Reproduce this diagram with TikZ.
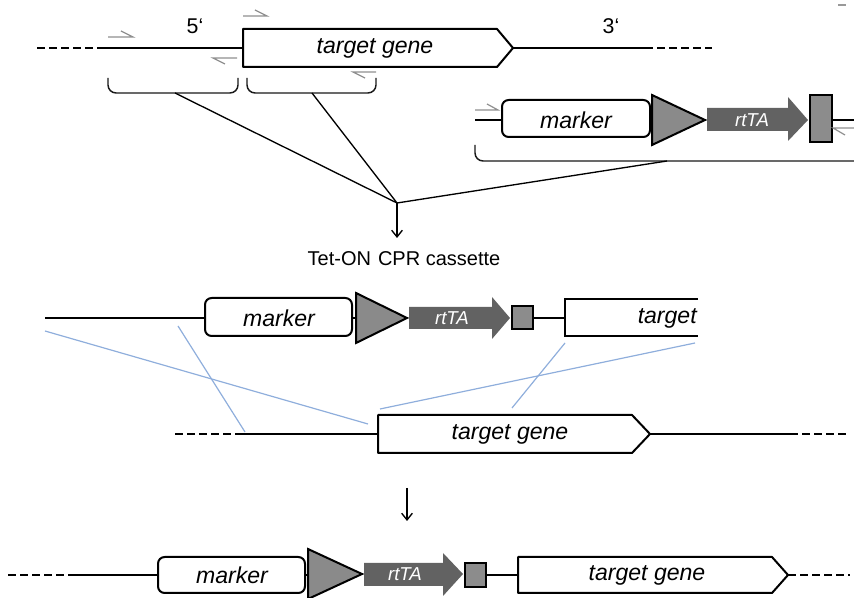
\documentclass[tikz,border=0pt]{standalone}
\usepackage{fontspec}
\setmainfont{Liberation Sans}
\usetikzlibrary{arrows.meta}
\definecolor{promgray}{HTML}{8A8A8A}
\definecolor{rttagray}{HTML}{626262}
\definecolor{termgray}{HTML}{8C8C8C}
\definecolor{primgray}{HTML}{8F8F8F}
\definecolor{homblue}{HTML}{8FAEDC}
\tikzset{
  dna/.style={line width=1.6pt, draw=black},
  dnadash/.style={dna, dash pattern=on 6pt off 3pt},
  genebox/.style={draw=black, line width=1.5pt, fill=white, line join=round},
  markerbox/.style={draw=black, line width=1.5pt, fill=white, rounded corners=5pt},
  prombox/.style={draw=black, line width=1.5pt, fill=promgray, line join=miter},
  rttabox/.style={fill=rttagray, draw=none},
  termbox/.style={draw=black, line width=1.5pt, fill=termgray},
  primer/.style={draw=primgray, line width=0.9pt},
  bracket/.style={draw=black!90, line width=1.1pt, rounded corners=6pt},
  link/.style={draw=black, line width=1pt},
  hom/.style={draw=homblue, line width=0.9pt},
  lab/.style={inner sep=0pt, font=\fontsize{17.3}{20}\selectfont\itshape},
  rlab/.style={inner sep=0pt, text=white, font=\fontsize{14}{16}\selectfont\itshape},
  plainlab/.style={inner sep=0pt, font=\fontsize{15}{18}\selectfont},
}
\begin{document}
\begin{tikzpicture}[x=0.75pt, y=-0.75pt]
\path[use as bounding box] (0,0) rectangle (854,598);

% ================= top: genomic locus =================
\draw[dnadash] (37,48) -- (100,48);
\draw[dna] (100,48) -- (243,48);
\draw[genebox] (243,29) -- (497,29) -- (513,48) -- (497,67) -- (243,67) -- cycle;
\node[lab] (tg1) at (375,48) {target gene};
\draw[dna] (513,48) -- (645,48);
\draw[dnadash] (645,48) -- (712,48);
\node[plainlab, font=\fontsize{16}{19}\selectfont] (five) at (195,26) {5‘};
\node[plainlab, font=\fontsize{16}{19}\selectfont] (three) at (611,26) {3‘};

% primers
\draw[primer] (108,37) -- (133,37) -- (121,31);
\draw[primer] (243,16) -- (267,16) -- (255,10);
\draw[primer] (237,58) -- (213,58) -- (225,64);
\draw[primer] (376,72) -- (353,72) -- (365,78);

% brackets
\draw[bracket] (108,78) -- (108,93) -- (238,93) -- (238,78);
\draw[bracket] (247,78) -- (247,93) -- (376,93) -- (376,78);
\coordinate (b1) at (175,93);
\coordinate (b2) at (312,93);

% ================= top right: cassette parts =================
\draw[dna] (475,120) -- (502,120);
\draw[markerbox] (502,100) rectangle (650,137);
\node[lab] (mk1) at (576,120) {marker};
\draw[dna] (650,120) -- (652,120);
\draw[prombox] (652,95) -- (705,120) -- (652,145) -- cycle;
\fill[rttabox] (707,108) -- (788,108) -- (788,97) -- (808,120) -- (788,141) -- (788,131) -- (707,131) -- cycle;
\node[rlab] (rt1) at (752,120) {rtTA};
\draw[termbox] (810,95) rectangle (832,142);
\draw[dna] (832,120) -- (854,120);
\draw[primer] (475,110) -- (498,110) -- (487,104);
\draw[primer] (854,128) -- (833,128) -- (845,135);
\draw[bracket] (475,145) -- (475,161) -- (854,161);
\coordinate (b3) at (667,161);
\draw[draw=black!40, line width=0.8pt] (838,5) -- (846,5);

% ================= convergence =================
\coordinate (conv) at (397,203);
\draw[link] (b1) -- (conv);
\draw[link] (b2) -- (conv);
\draw[link] (b3) -- (conv);
\coordinate (arrEnd1) at (397,238);
\draw[link, -{Straight Barb[length=5pt, width=8pt]}] (conv) -- (arrEnd1);
\node[plainlab] (cass) at (404,259) {Tet-ON\hspace{0.35em}CPR cassette};

% ================= middle: cassette =================
\draw[dna] (45,318) -- (205,318);
\draw[markerbox] (205,298) rectangle (352,336);
\node[lab] (mk2) at (279,318) {marker};
\draw[dna] (352,318) -- (356,318);
\draw[prombox] (356,293) -- (407,318) -- (356,343) -- cycle;
\fill[rttabox] (409,307) -- (492,307) -- (492,297) -- (510,318) -- (492,339) -- (492,329) -- (409,329) -- cycle;
\node[rlab] (rt2) at (452,318) {rtTA};
\draw[termbox] (512,306) rectangle (533,329);
\draw[dna] (533,318) -- (565,318);
\fill[white] (565,299) rectangle (698,336);
\draw[line width=1.5pt] (698,299) -- (565,299) -- (565,336) -- (698,336);
\node[lab, anchor=east] (tg2) at (697,318) {target};

% homology lines
\draw[hom] (45,331) -- (368,424);
\draw[hom] (178,326) -- (245,432);
\draw[hom] (695,343) -- (380,409);
\draw[hom] (565,343) -- (512,408);

% ================= row 3: genomic target =================
\draw[dnadash] (175,434) -- (235,434);
\draw[dna] (235,434) -- (378,434);
\draw[genebox] (378,415) -- (632,415) -- (650,434) -- (632,453) -- (378,453) -- cycle;
\node[lab] (tg3) at (510,434) {target gene};
\draw[dna] (650,434) -- (790,434);
\draw[dnadash] (790,434) -- (848,434);

\coordinate (arrStart2) at (407,488);
\coordinate (arrEnd2) at (407,521);
\draw[link, -{Straight Barb[length=5pt, width=8pt]}] (arrStart2) -- (arrEnd2);

% ================= row 4: result =================
\draw[dnadash] (8,575) -- (70,575);
\draw[dna] (70,575) -- (158,575);
\draw[markerbox] (158,557) rectangle (305,593);
\node[lab] (mk3) at (232,575) {marker};
\draw[dna] (305,575) -- (308,575);
\draw[prombox] (308,549) -- (362,574) -- (308,599) -- cycle;
\fill[rttabox] (364,563) -- (443,563) -- (443,553) -- (463,574) -- (443,596) -- (443,586) -- (364,586) -- cycle;
\node[rlab] (rt3) at (405,574) {rtTA};
\draw[termbox] (465,563) rectangle (486,587);
\draw[dna] (486,575) -- (518,575);
\draw[genebox] (518,557) -- (772,557) -- (788,575) -- (772,593) -- (518,593) -- cycle;
\node[lab] (tg4) at (647,575) {target gene};
\draw[dnadash] (788,575) -- (850,575);
\end{tikzpicture}
\end{document}
